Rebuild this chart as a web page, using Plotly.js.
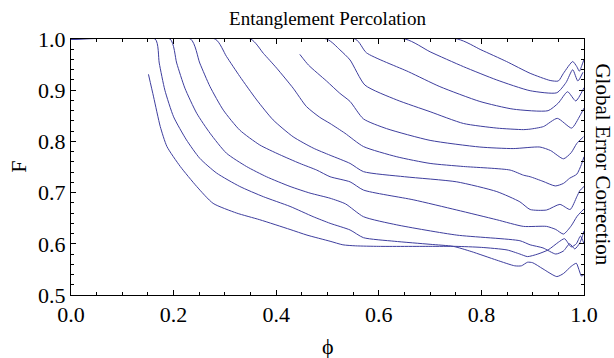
<!DOCTYPE html>
<html>
<head>
<meta charset="utf-8">
<script src="https://cdn.plot.ly/plotly-3.0.1.min.js"></script>
<style>html,body{margin:0;padding:0;background:#fff;}#plot{width:614px;height:358px;}</style>
</head>
<body>
<div id="plot"></div>
<script>
// Curves C1..C11 (phi, F)
const phi1 = [0.151, 0.161, 0.174, 0.187, 0.213, 0.245, 0.277, 0.323, 0.368, 0.427, 0.46, 0.505, 0.53, 0.555, 0.60, 0.70, 0.75, 0.80, 0.85, 0.875, 0.89, 0.91, 0.93, 0.95, 0.962, 0.975, 0.985, 0.993, 1.0];
const F1   = [0.931, 0.887, 0.829, 0.790, 0.751, 0.712, 0.679, 0.660, 0.647, 0.628, 0.617, 0.605, 0.598, 0.596, 0.595, 0.595, 0.595, 0.593, 0.588, 0.580, 0.575, 0.580, 0.588, 0.603, 0.610, 0.594, 0.600, 0.615, 0.600];

const phi2 = [0, 0.164, 0.172, 0.183, 0.200, 0.225, 0.251, 0.284, 0.329, 0.375, 0.427, 0.472, 0.505, 0.544, 0.57, 0.63, 0.70, 0.745, 0.78, 0.83, 0.865, 0.878, 0.89, 0.90, 0.92, 0.947, 0.96, 0.975, 0.985, 0.99, 0.995, 1.0];
const F2   = [1, 1, 0.953, 0.900, 0.848, 0.803, 0.767, 0.738, 0.712, 0.692, 0.673, 0.653, 0.640, 0.627, 0.612, 0.605, 0.599, 0.595, 0.585, 0.568, 0.557, 0.557, 0.564, 0.563, 0.551, 0.536, 0.542, 0.556, 0.562, 0.550, 0.537, 0.540];

const phi3 = [0, 0.193, 0.206, 0.222, 0.245, 0.271, 0.303, 0.342, 0.381, 0.427, 0.466, 0.505, 0.535, 0.570, 0.635, 0.752, 0.875, 0.895, 0.92, 0.945, 0.96, 0.972, 0.982, 0.992, 1.0];
const F3   = [1, 1, 0.953, 0.904, 0.855, 0.816, 0.777, 0.751, 0.731, 0.712, 0.699, 0.689, 0.678, 0.653, 0.637, 0.617, 0.606, 0.598, 0.592, 0.580, 0.586, 0.600, 0.590, 0.602, 0.625];

const phi4 = [0, 0.233, 0.251, 0.271, 0.297, 0.329, 0.368, 0.407, 0.446, 0.479, 0.505, 0.544, 0.570, 0.667, 0.752, 0.830, 0.882, 0.927, 0.945, 0.960, 0.975, 0.986, 0.992, 1.0];
const F4   = [1, 1, 0.953, 0.907, 0.861, 0.822, 0.793, 0.774, 0.757, 0.744, 0.731, 0.721, 0.705, 0.686, 0.666, 0.647, 0.634, 0.634, 0.628, 0.619, 0.635, 0.653, 0.660, 0.668];

const phi5 = [0, 0.281, 0.303, 0.329, 0.362, 0.394, 0.433, 0.472, 0.505, 0.544, 0.570, 0.650, 0.752, 0.830, 0.875, 0.895, 0.927, 0.953, 0.973, 0.986, 0.992, 1.0];
const F5   = [1, 1, 0.966, 0.927, 0.881, 0.842, 0.809, 0.787, 0.773, 0.757, 0.741, 0.731, 0.721, 0.702, 0.682, 0.667, 0.666, 0.677, 0.667, 0.692, 0.704, 0.712];

const phi6 = [0, 0.350, 0.375, 0.401, 0.433, 0.459, 0.485, 0.505, 0.534, 0.570, 0.635, 0.700, 0.765, 0.856, 0.882, 0.895, 0.920, 0.944, 0.960, 0.972, 0.986, 0.995, 1.0];
const F6   = [1, 1, 0.972, 0.943, 0.904, 0.868, 0.847, 0.835, 0.816, 0.790, 0.770, 0.757, 0.751, 0.744, 0.734, 0.731, 0.722, 0.713, 0.718, 0.728, 0.736, 0.755, 0.770];

const phi7 = [0.446, 0.463, 0.498, 0.524, 0.544, 0.570, 0.615, 0.700, 0.797, 0.862, 0.914, 0.935, 0.960, 0.975, 0.986, 0.999];
const F7   = [0.970, 0.949, 0.918, 0.894, 0.878, 0.844, 0.825, 0.802, 0.789, 0.786, 0.789, 0.782, 0.766, 0.778, 0.796, 0.809];

const phi8 = [0, 0.498, 0.524, 0.544, 0.573, 0.635, 0.700, 0.765, 0.830, 0.882, 0.895, 0.921, 0.948, 0.976, 0.992, 1.0];
const F8   = [1, 1, 0.979, 0.959, 0.910, 0.881, 0.858, 0.835, 0.826, 0.823, 0.824, 0.829, 0.845, 0.826, 0.850, 0.865];

const phi9 = [0, 0.554, 0.576, 0.658, 0.719, 0.797, 0.862, 0.930, 0.950, 0.968, 0.984, 1.0];
const F9   = [1, 1, 0.973, 0.936, 0.907, 0.878, 0.863, 0.860, 0.875, 0.897, 0.879, 0.905];

const phi10 = [0, 0.651, 0.700, 0.765, 0.830, 0.895, 0.947, 0.965, 0.978, 0.988, 0.998];
const F10   = [1, 1, 0.975, 0.946, 0.920, 0.899, 0.895, 0.915, 0.940, 0.918, 0.935];

const phi11 = [0, 0.753, 0.799, 0.849, 0.895, 0.934, 0.950, 0.960, 0.978, 0.986, 0.991, 0.996, 1.0];
const F11   = [1, 1, 0.979, 0.956, 0.933, 0.919, 0.918, 0.933, 0.956, 0.946, 0.937, 0.949, 0.960];

const xTicks = [0, 0.2, 0.4, 0.6, 0.8, 1.0];
const xTickText = ["0.0", "0.2", "0.4", "0.6", "0.8", "1.0"];
const yTicks = [0.5, 0.6, 0.7, 0.8, 0.9, 1.0];
const yTickText = ["0.5", "0.6", "0.7", "0.8", "0.9", "1.0"];

const curves = [[phi1,F1],[phi2,F2],[phi3,F3],[phi4,F4],[phi5,F5],[phi6,F6],[phi7,F7],[phi8,F8],[phi9,F9],[phi10,F10],[phi11,F11]];
const lineColor = 'rgb(62,62,158)';
const traces = curves.map(c => ({
  x: c[0], y: c[1], type: 'scatter', mode: 'lines',
  line: {color: lineColor, width: 1, shape: 'spline', smoothing: 0.6},
  hoverinfo: 'skip'
}));

const serif = '"Liberation Serif", "Times New Roman", serif';
const axisCommon = {
  ticks: 'inside', ticklen: 5, tickwidth: 1, tickcolor: '#000',
  showline: true, linecolor: '#000', linewidth: 1, mirror: 'allticks',
  showgrid: false, zeroline: false,
  tickfont: {family: serif, size: 22, color: '#000'},
  tickmode: 'array'
};

const layout = {
  width: 614, height: 358,
  margin: {l: 71, r: 30, t: 39, b: 63},
  paper_bgcolor: '#fff', plot_bgcolor: '#fff',
  showlegend: false,
  title: {text: 'Entanglement Percolation', font: {family: serif, size: 19, color: '#000'},
          x: 0.5, xref: 'paper', y: 0.95, yref: 'container', yanchor: 'middle'},
  xaxis: Object.assign({}, axisCommon, {
    range: [0, 1], tickvals: xTicks, ticktext: xTickText,
    minor: {dtick: 0.05, tick0: 0, ticks: 'inside', ticklen: 3, tickcolor: '#000', tickwidth: 1, showgrid: false}
  }),
  yaxis: Object.assign({}, axisCommon, {
    range: [0.5, 1], tickvals: yTicks, ticktext: yTickText,
    minor: {dtick: 0.02, tick0: 0.5, ticks: 'inside', ticklen: 3, tickcolor: '#000', tickwidth: 1, showgrid: false}
  }),
  annotations: [
    {text: 'F', xref: 'paper', yref: 'paper', x: -0.104, y: 0.5, showarrow: false, textangle: -90,
     xanchor: 'center', yanchor: 'middle', font: {family: serif, size: 22, color: '#000'}},
    {text: 'ϕ', xref: 'paper', yref: 'paper', x: 0.5, y: -0.203, showarrow: false,
     xanchor: 'center', yanchor: 'middle', font: {family: serif, size: 22, color: '#000'}},
    {text: 'Global Error Correction', xref: 'paper', yref: 'paper', x: 1.037, y: 0.51, showarrow: false, textangle: 90,
     xanchor: 'center', yanchor: 'middle', font: {family: serif, size: 21, color: '#000'}}
  ]
};

Plotly.newPlot('plot', traces, layout, {displayModeBar: false, staticPlot: true});
</script>
</body>
</html>
